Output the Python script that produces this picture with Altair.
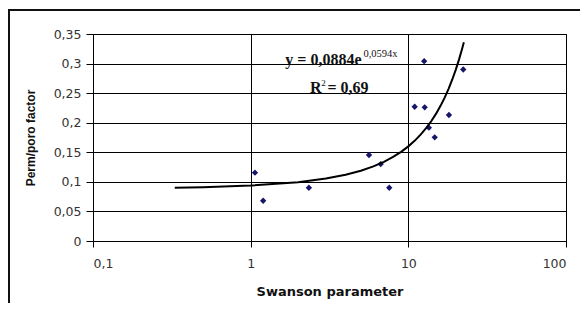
import altair as alt
import pandas as pd

# Scatter data
swanson = [1.065, 1.20, 2.34, 5.63, 6.68, 7.57, 12.6, 22.3, 10.97, 12.7, 18.1, 13.5, 14.7]
permporo = [0.1155, 0.068, 0.090, 0.1454, 0.130, 0.090, 0.304, 0.290, 0.227, 0.226, 0.213, 0.1916, 0.1753]

# Trend curve as drawn
curve_x = [0.33, 0.5, 1, 2, 3, 4, 5, 6, 7, 8, 9, 10, 11, 12, 13, 14, 15, 16, 17, 18, 19, 20, 21, 22, 22.5]
curve_y = [0.0901, 0.0910, 0.0938, 0.0995, 0.1056, 0.1121, 0.1189, 0.1262, 0.1339, 0.1421, 0.1508,
           0.1600, 0.1698, 0.1802, 0.1912, 0.2029, 0.2153, 0.2285, 0.2425, 0.2573, 0.2731, 0.2898,
           0.3075, 0.3263, 0.3361]

# Annotation texts
ann_text = ["y = 0,0884e", "0,0594x", "R", "2", "= 0,69"]
ann_x = [5.05, 5.19, 2.38, 2.80, 3.07]
ann_y = [0.2976, 0.3111, 0.2502, 0.2621, 0.2502]
ann_size = [16, 10.5, 16, 9, 16]
ann_weight = ["bold", "normal", "bold", "normal", "bold"]
ann_align = ["right", "left", "left", "left", "left"]

x_ticks = [0.1, 1, 10, 100]
y_ticks = [0, 0.05, 0.1, 0.15, 0.2, 0.25, 0.3, 0.35]

pts = pd.DataFrame({"x": swanson, "y": permporo})
crv = pd.DataFrame({"x": curve_x, "y": curve_y})

xscale = alt.Scale(type="log", domain=[0.1, 100])
yscale = alt.Scale(domain=[0, 0.35])

xaxis = alt.Axis(values=x_ticks, title="Swanson parameter",
                 labelExpr="replace(format(datum.value, '~g'), '.', ',')",
                 labelOverlap=False,
                 grid=True, gridColor="#000", gridOpacity=1, gridWidth=1,
                 domainColor="#000", tickColor="#000", tickSize=6,
                 labelPadding=10, labelFontSize=12.5, labelColor="#333", labelFont="DejaVu Sans",
                 titleFont="DejaVu Sans", titleFontSize=13, titleFontWeight="bold",
                 titleColor="#111", titlePadding=16)
yaxis = alt.Axis(values=y_ticks, title="Perm/poro factor",
                 labelExpr="replace(format(datum.value, '~g'), '.', ',')",
                 labelOverlap=False,
                 grid=True, gridColor="#000", gridOpacity=1, gridWidth=1,
                 domainColor="#000", tickColor="#000", tickSize=7,
                 labelPadding=5, labelFontSize=12.5, labelColor="#333", labelFont="DejaVu Sans",
                 titleFont="Liberation Sans", titleFontSize=12, titleFontWeight="bold",
                 titleColor="#111", titlePadding=16)

X = alt.X("x:Q", scale=xscale, axis=xaxis)
Y = alt.Y("y:Q", scale=yscale, axis=yaxis)

points = alt.Chart(pts).mark_point(shape="diamond", filled=True, color="#16166b", size=40, opacity=1).encode(
    x=X, y=Y,
)

line = alt.Chart(crv).mark_line(color="#000", strokeWidth=2).encode(
    x=X, y=Y,
)

text_layers = []
for t, xv, yv, s, w, a in zip(ann_text, ann_x, ann_y, ann_size, ann_weight, ann_align):
    d = pd.DataFrame({"t": [t], "x": [xv], "y": [yv]})
    text_layers.append(
        alt.Chart(d).mark_text(font="Liberation Serif", fontWeight=w, color="#111",
                               baseline="alphabetic", align=a, fontSize=s).encode(
            x=X, y=Y,
            text="t:N",
        )
    )

frame_left = alt.Chart(pd.DataFrame({"k": [0]})).mark_rule(color="#111", strokeWidth=2).encode(
    x=alt.value(-84), y=alt.value(-24), y2=alt.value(400)
)
frame_top = alt.Chart(pd.DataFrame({"k": [0]})).mark_rule(color="#111", strokeWidth=2).encode(
    x=alt.value(-85), x2=alt.value(600), y=alt.value(-24)
)

chart = alt.layer(points, line, *text_layers, frame_left, frame_top).properties(
    width=473, height=207,
    autosize=alt.AutoSizeParams(type="none"),
    padding={"left": 85, "top": 26, "right": 14, "bottom": 62},
    background="white",
).configure_view(stroke="#000", strokeWidth=1)

chart.save("out.html", embed_options={"renderer": "svg", "actions": False})
